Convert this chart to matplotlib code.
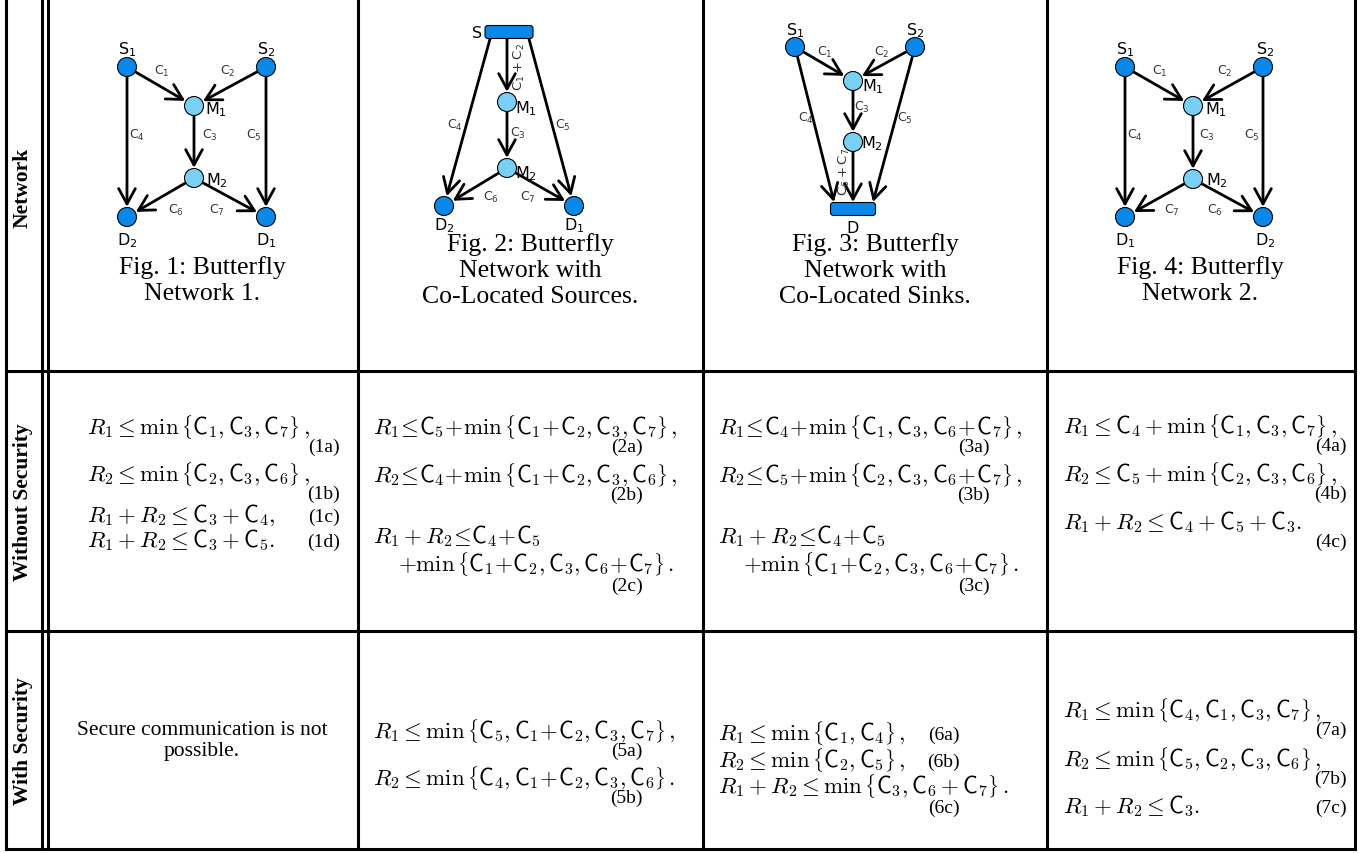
import numpy as np
import matplotlib.pyplot as plt
from matplotlib.patches import Circle, FancyBboxPatch

plt.rcParams['mathtext.fontset'] = 'cm'

SERIF = 'Liberation Serif'
EQ_FS = 16.5
TAG_FS = 14
DARK = '#0a88ea'
LIGHT = '#78d0f5'

# ---------------- table content ----------------
row_labels = ['Network', 'Without Security', 'With Security']

captions = [
    ['Fig. 1: Butterfly', 'Network 1.'],
    ['Fig. 2: Butterfly', 'Network with', 'Co-Located Sources.'],
    ['Fig. 3: Butterfly', 'Network with', 'Co-Located Sinks.'],
    ['Fig. 4: Butterfly', 'Network 2.'],
]

without_1 = [
    (r'R_1 \leq \min\,\{C_1, C_3, C_7\}\,,', '(1a)'),
    (r'R_2 \leq \min\,\{C_2, C_3, C_6\}\,,', '(1b)'),
    (r'R_1 + R_2 \leq C_3 + C_4,', '(1c)'),
    (r'R_1 + R_2 \leq C_3 + C_5.', '(1d)'),
]
without_2 = [
    (r'R_1\!\leq\!C_5\!+\!\min\,\{C_1\!+\!C_2, C_3, C_7\}\,,', '(2a)'),
    (r'R_2\!\leq\!C_4\!+\!\min\,\{C_1\!+\!C_2, C_3, C_6\}\,,', '(2b)'),
    (r'R_1 + R_2\!\leq\!C_4\!+\!C_5', ''),
    (r'+\min\,\{C_1\!+\!C_2, C_3, C_6\!+\!C_7\}\,.', '(2c)'),
]
without_3 = [
    (r'R_1\!\leq\!C_4\!+\!\min\,\{C_1, C_3, C_6\!+\!C_7\}\,,', '(3a)'),
    (r'R_2\!\leq\!C_5\!+\!\min\,\{C_2, C_3, C_6\!+\!C_7\}\,,', '(3b)'),
    (r'R_1 + R_2\!\leq\!C_4\!+\!C_5', ''),
    (r'+\min\,\{C_1\!+\!C_2, C_3, C_6\!+\!C_7\}\,.', '(3c)'),
]
without_4 = [
    (r'R_1 \leq C_4 + \min\,\{C_1, C_3, C_7\}\,,', '(4a)'),
    (r'R_2 \leq C_5 + \min\,\{C_2, C_3, C_6\}\,,', '(4b)'),
    (r'R_1 + R_2 \leq C_4 + C_5 + C_3.', '(4c)'),
]

secure_text = 'Secure communication is not\npossible.'
with_2 = [
    (r'R_1 \leq \min\,\{C_5, C_1\!+\!C_2, C_3, C_7\}\,,', '(5a)'),
    (r'R_2 \leq \min\,\{C_4, C_1\!+\!C_2, C_3, C_6\}\,.', '(5b)'),
]
with_3 = [
    (r'R_1 \leq \min\,\{C_1, C_4\}\,,', '(6a)'),
    (r'R_2 \leq \min\,\{C_2, C_5\}\,,', '(6b)'),
    (r'R_1 + R_2 \leq \min\,\{C_3, C_6 + C_7\}\,.', '(6c)'),
]
with_4 = [
    (r'R_1 \leq \min\,\{C_4, C_1, C_3, C_7\}\,,', '(7a)'),
    (r'R_2 \leq \min\,\{C_5, C_2, C_3, C_6\}\,,', '(7b)'),
    (r'R_1 + R_2 \leq C_3.', '(7c)'),
]

# network graphs: edges (from, to, capacity label)
net1_edges = [('S1', 'M1', 'C_1'), ('S2', 'M1', 'C_2'), ('M1', 'M2', 'C_3'),
              ('S1', 'D2', 'C_4'), ('S2', 'D1', 'C_5'), ('M2', 'D2', 'C_6'),
              ('M2', 'D1', 'C_7')]
net2_edges = [('S', 'M1', 'C_1+C_2'), ('M1', 'M2', 'C_3'), ('S', 'D2', 'C_4'),
              ('S', 'D1', 'C_5'), ('M2', 'D2', 'C_6'), ('M2', 'D1', 'C_7')]
net3_edges = [('S1', 'M1', 'C_1'), ('S2', 'M1', 'C_2'), ('M1', 'M2', 'C_3'),
              ('S1', 'D', 'C_4'), ('S2', 'D', 'C_5'), ('M2', 'D', 'C_6+C_7')]
net4_edges = [('S1', 'M1', 'C_1'), ('S2', 'M1', 'C_2'), ('M1', 'M2', 'C_3'),
              ('S1', 'D1', 'C_4'), ('S2', 'D2', 'C_5'), ('M2', 'D2', 'C_6'),
              ('M2', 'D1', 'C_7')]

# ---------------- layout (pixel coordinates) ----------------
pos1 = {'S1': (127, 68), 'S2': (266, 68), 'M1': (194, 107), 'M2': (194, 179),
        'D2': (127, 218), 'D1': (266, 218)}
pos2 = {'S': (509, 33), 'M1': (507, 103), 'M2': (507, 169),
        'D2': (444, 207), 'D1': (574, 207)}
pos3 = {'S1': (795, 48), 'S2': (915, 48), 'M1': (853, 82), 'M2': (853, 143),
        'D': (853, 210)}
pos4 = {'S1': (1125, 68), 'S2': (1263, 68), 'M1': (1193, 107), 'M2': (1193, 180),
        'D1': (1125, 218), 'D2': (1263, 218)}

ports2 = {('S', 'D2'): (490, 40), ('S', 'M1'): (507, 40), ('S', 'D1'): (529, 40)}
ports3 = {('S1', 'D'): (834, 203), ('M2', 'D'): (853, 203), ('S2', 'D'): (873, 203)}

lab1 = {'S1': (127, 50, 'center'), 'S2': (266, 50, 'center'), 'M1': (205, 110, 'left'),
        'M2': (206, 181, 'left'), 'D2': (127, 241, 'center'), 'D1': (266, 241, 'center')}
lab2 = {'S': (482, 33, 'right'), 'M1': (515, 109, 'left'), 'M2': (515, 174, 'left'),
        'D2': (444, 226, 'center'), 'D1': (574, 226, 'center')}
lab3 = {'S1': (795, 31, 'center'), 'S2': (915, 31, 'center'), 'M1': (862, 87, 'left'),
        'M2': (861, 144, 'left'), 'D': (853, 228, 'center')}
lab4 = {'S1': (1125, 50, 'center'), 'S2': (1265, 50, 'center'), 'M1': (1205, 110, 'left'),
        'M2': (1206, 181, 'left'), 'D1': (1125, 241, 'center'), 'D2': (1265, 241, 'center')}

elab1 = {'C_1': (162, 71), 'C_2': (228, 71), 'C_3': (210, 135), 'C_4': (137, 135),
         'C_5': (254, 135), 'C_6': (176, 210), 'C_7': (217, 210)}
elab2 = {'C_1+C_2': (519, 67), 'C_3': (518, 133), 'C_4': (455, 125), 'C_5': (563, 125),
         'C_6': (491, 197), 'C_7': (528, 197)}
elab3 = {'C_1': (825, 52), 'C_2': (882, 52), 'C_3': (862, 107), 'C_4': (806, 118),
         'C_5': (905, 118), 'C_6+C_7': (844, 172)}
elab4 = {'C_1': (1160, 71), 'C_2': (1225, 71), 'C_3': (1207, 135), 'C_4': (1135, 135),
         'C_5': (1252, 135), 'C_6': (1215, 210), 'C_7': (1172, 210)}

R = 9.5  # node radius in px

fig = plt.figure(figsize=(13.69, 8.54), dpi=100)
ax = fig.add_axes([0, 0, 1, 1])
ax.set_xlim(0, 1369)
ax.set_ylim(854, 0)
ax.axis('off')


def m(s):
    s = s.replace('C_', r'\mathsf{C}_')
    # small (cmsy) braces instead of the cmex ones
    s = s.replace(r'\{', r'\left\{').replace(r'\}', r'\right\}')
    return '$' + s + '$'


def node_math(s):
    if len(s) > 1:
        return r'$\mathrm{%s}_{%s}$' % (s[0], s[1:])
    return r'$\mathrm{%s}$' % s


def draw_net(edges, pos, ports, labs, elabs, boxes=()):
    for a, b, c in edges:
        start = ports.get((a, b), pos[a]) if a in boxes else pos[a]
        end = ports.get((a, b), pos[b]) if b in boxes else pos[b]
        sA = 0 if a in boxes else R * 0.72
        sB = 0 if b in boxes else R * 0.72 + 0.5
        ax.annotate('', xy=end, xytext=start, zorder=2,
                    arrowprops=dict(arrowstyle='->,head_length=0.55,head_width=0.3',
                                    lw=2.0, color='black', shrinkA=sA, shrinkB=sB,
                                    mutation_scale=20))
        x, y = elabs[c]
        if '+' in c:
            p, q = c.split('+')
            txt = r'$\mathrm{C}_{%s}+\mathrm{C}_{%s}$' % (p[-1], q[-1])
            ax.text(x, y, txt, fontsize=9.5, rotation=90, ha='center', va='center',
                    color='#333333', math_fontfamily='dejavusans')
        else:
            ax.text(x, y, r'$\mathrm{C}_{%s}$' % c[-1], fontsize=9, ha='center',
                    va='center', color='#333333', math_fontfamily='dejavusans')
    for n, (x, y) in pos.items():
        if n in boxes:
            w, h = boxes[n]
            ax.add_patch(FancyBboxPatch((x - w / 2, y - h / 2), w, h,
                                        boxstyle='round,pad=0,rounding_size=3',
                                        fc=DARK, ec='black', lw=0.8, zorder=4))
        else:
            ax.add_patch(Circle((x, y), R, fc=LIGHT if n[0] == 'M' else DARK,
                                ec='black', lw=0.8, zorder=4))
        lx, ly, ha = labs[n]
        ax.text(lx, ly, node_math(n), fontsize=11.5, ha=ha, va='center',
                math_fontfamily='dejavusans')


def put_eqs(items, x, ys, tag_right, tag_ys, indents=None):
    for i, ((eq, tag), y, ty) in enumerate(zip(items, ys, tag_ys)):
        dx = indents[i] if indents else 0
        ax.text(x + dx, y + 5, m(eq), fontsize=EQ_FS, ha='left', va='baseline')
        if tag:
            ax.text(tag_right, ty + 5, tag, family=SERIF, fontsize=TAG_FS,
                    ha='right', va='baseline')


# ---------------- grid ----------------
lw = 2.2
xs = [6, 42, 48, 358, 703, 1047, 1355]
ys = [372, 632, 850]
for x in xs:
    ax.plot([x, x], [0, ys[-1]], color='black', lw=lw, solid_capstyle='projecting')
for y in ys:
    ax.plot([xs[0], xs[-1]], [y, y], color='black', lw=lw, solid_capstyle='projecting')

for lab, yc in zip(row_labels, [188, 502, 741]):
    ax.text(23, yc, lab, rotation=90, ha='center', va='center', family=SERIF,
            fontsize=15.5, fontweight='bold')

# ---------------- row 1: networks ----------------
draw_net(net1_edges, pos1, {}, lab1, elab1)
draw_net(net2_edges, pos2, ports2, lab2, elab2, boxes={'S': (48, 13)})
draw_net(net3_edges, pos3, ports3, lab3, elab3, boxes={'D': (45, 13)})
draw_net(net4_edges, pos4, {}, lab4, elab4)

cap_x = [202, 530, 875, 1200]
cap_y0 = [268, 245, 245, 268]
for lines, cx, cy in zip(captions, cap_x, cap_y0):
    for k, line in enumerate(lines):
        ax.text(cx, cy + 26 * k, line, family=SERIF, fontsize=18.5,
                ha='center', va='center')

# ---------------- row 2: without security ----------------
put_eqs(without_1, 87, [429, 476, 517, 542], 340, [447, 494, 517, 542])
put_eqs(without_2, 373, [429, 477, 538, 566], 643, [447, 495, 0, 586],
        indents=[0, 0, 0, 25])
put_eqs(without_3, 718, [429, 477, 538, 566], 990, [447, 495, 0, 586],
        indents=[0, 0, 0, 25])
put_eqs(without_4, 1063, [428, 476, 524], 1347, [446, 494, 542])

# ---------------- row 3: with security ----------------
ax.text(202, 741, secure_text, family=SERIF, fontsize=15.5, ha='center',
        va='center', linespacing=1.15)
put_eqs(with_2, 373, [733, 780], 643, [751, 798])
put_eqs(with_3, 718, [735, 762, 788], 960, [735, 762, 808])
put_eqs(with_4, 1063, [712, 761, 808], 1347, [730, 779, 808])

fig.savefig('out.png', dpi=100)
